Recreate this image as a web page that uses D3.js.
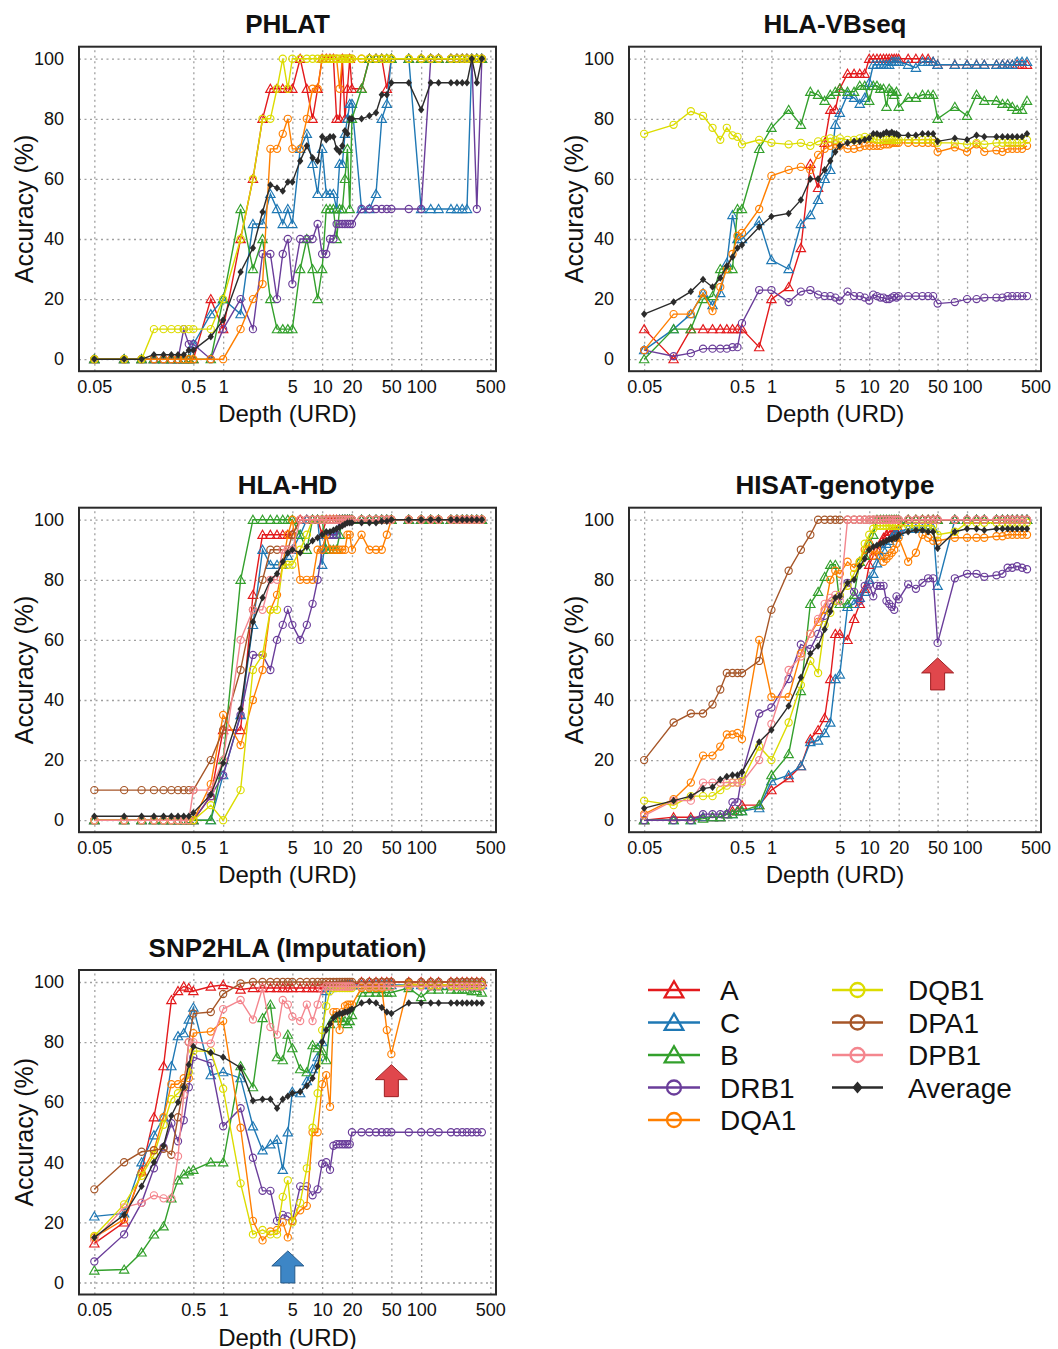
<!DOCTYPE html>
<html>
<head>
<meta charset="utf-8">
<script src="https://cdn.jsdelivr.net/npm/d3@7"></script>
<style>
  body { margin: 0; background: #fff; }
  svg { display: block; font-family: "Liberation Sans", Arial, sans-serif; }
</style>
</head>
<body>
<svg id="chart" width="1058" height="1349"></svg>
<script>
// sequencing depth (URD) of every sample point
var depth = [0.05,0.1,0.15,0.2,0.25,0.3,0.35,0.4,0.45,0.5,
  0.75,1,1.5,2,2.5,3,3.5,4,4.5,5,
  6,7,8,9,10,11,12,13,14,15,
  16,17,18,19,20,25,30,35,40,45,
  50,75,100,125,150,200,230,260,290,325,
  365,410]

var loci = ["A","C","B","DRB1","DQA1","DQB1","DPA1","DPB1","Average"]
var colors = ["#e31a1c","#1f78b4","#33a02c","#6a3d9a","#ff7f00","#dcdc00","#a65628","#f4868e","#2b2b2b"]
var shapes = ["tri","tri","tri","circ","circ","circ","circ","circ","diam"]
var xTicks = [0.05,0.5,1,5,10,20,50,100,500]
var xTickLabels = ["0.05","0.5","1","5","10","20","50","100","500"]
var yTicks = [0,20,40,60,80,100]

// ---- PHLAT
var phlat = {
  A: [0,0,0,0,0,0,0,0,0,0, 20,10,40,60,80,90,90,90,90,90, 100,90,80,90,100,100,100,100,80,80, 100,80,90,100,90,90,100,100,100,90, 100,100,100,100,100,100,100,100,100,100, 100,100],
  C: [0,0,0,0,0,0,0,0,0,5, 15,20,15,45,45,55,50,45,50,45, 70,75,65,55,70,55,55,55,50,65, 65,75,80,85,85,50,50,55,80,85, 100,100,50,50,50,50,50,50,50,100, 100,100],
  B: [0,0,0,0,0,0,0,0,0,0, 0,20,50,30,40,20,10,10,10,10, 30,40,30,20,30,50,50,50,40,50, 50,60,70,50,80,90,100,100,100,100, 100,100,100,100,100,100,100,100,100,100, 100,100],
  DRB1: [0,0,0,0,0,0,0,10,5,5, 0,10,20,10,35,35,20,35,40,25, 40,40,40,45,35,35,40,40,45,45, 45,45,45,45,45,50,50,50,50,50, 50,50,50,100,100,100,100,100,100,100, 50,100],
  DQA1: [0,0,0,0,0,0,0,0,0,0, 0,0,10,20,25,70,70,75,80,70, 70,80,90,90,100,100,100,100,100,90, 100,100,100,100,100,100,100,100,100,100, 100,100,100,100,100,100,100,100,100,100, 100,100],
  DQB1: [0,0,0,10,10,10,10,10,10,10, 10,20,40,60,80,80,90,100,90,100, 100,100,100,100,100,100,100,100,100,100, 100,100,100,100,100,100,100,100,100,100, 100,100,100,100,100,100,100,100,100,100, 100,100],
  Average: [0,0,0,1.5,1.5,1.5,1.5,1.5,3,3, 7.5,13,29,37,49,58,57,56,59,59, 66,71,67,66,74,73,74,74,70,69, 71,76,75,80,80,80,81,82,88,88, 92,92,83,92,92,92,92,92,92,100, 92,100]
}

// ---- HLA-VBseq
var vbseq = {
  A: [10,0,10,10,10,10,10,10,10,10, 4,20,24,37,65,57,72,83,83,90, 95,95,95,95,100,100,100,100,100,100, 100,100,100,100,100,100,100,100,100,99, 98,98,98,98,98,98,98,98,98,98, 98,98],
  C: [3,10,15,22,18,22,32,48,40,40, 46,33,30,45,48,53,60,63,78,82, 88,87,85,87,92,98,98,98,98,98, 98,99,99,99,99,98,97,99,99,99, 98,98,98,98,98,98,98,98,98,99, 99,99],
  B: [0,10,10,20,21,30,30,30,50,50, 70,77,83,78,89,88,86,88,89,90, 89,89,91,91,86,91,91,90,90,84, 90,89,88,89,84,87,87,88,88,88, 80,84,81,88,86,86,85,85,84,83, 83,86],
  DRB1: [3,1,2,3.5,3.5,3.5,3.5,4,4,12, 23,23,19,22.5,23,21.5,21,21,20.5,19.5, 22.5,21,21,20.5,19.5,21.5,21,20.5,20.5,20, 20,20.5,21,20.5,21,21,21,21,21,21, 18.5,19,20,20,20.5,20.5,20.5,21,21,21, 21,21],
  DQA1: [3,15,15,22,16,24,30,35,41,42, 50,61,63,64,63,68,70,71,71.5,71, 70,70,70.5,71,71,71,71,71,71.5,71.5, 71.5,72,72,72,72,72,72,72,72,72, 69,70.5,69,71.5,69,69.5,69,70,70,70, 70,71],
  DQB1: [75,78,82.5,81,77,73,77,74.5,74,71.5, 73,72,71.5,72,71,72.5,73,73.5,73,73.5, 73,73,73.5,74,73.5,73.5,73,73,73,73, 73,73,73,73,73,73,73,73,73,73, 72,72,71.5,72,71.5,72,72,72,72,72, 72,73],
  Average: [15,19,22.5,26.5,24,27,31,34,37,38, 44,47.5,48.5,53,60,60,63,66,69,71, 72,72.5,72.5,73,73.5,75,75,74.5,75,75.5, 75,75.5,75,75,74.5,74.5,74.5,75,75,75, 72.5,73.5,73,74.5,74,74,74,74,74,74, 74,75]
}

// ---- HLA-HD
var hlahd = {
  A: [0,0,0,0,0,0,0,0,0,0, 8,30,30,75,95,95,95,95,95,95, 100,100,100,100,95,100,100,100,100,100, 100,100,100,100,100,100,100,100,100,100, 100,100,100,100,100,100,100,100,100,100, 100,100],
  C: [0,0,0,0,0,0,0,0,0,0, 0,15,35,65,90,85,85,85,88,90, 95,100,100,100,85,95,95,95,95,100, 100,100,100,100,100,100,100,100,100,100, 100,100,100,100,100,100,100,100,100,100, 100,100],
  B: [0,0,0,0,0,0,0,0,0,0, 0,20,80,100,100,100,100,100,100,100, 95,90,100,100,100,90,90,90,90,95, 100,100,100,100,100,100,100,100,100,100, 100,100,100,100,100,100,100,100,100,100, 100,100],
  DRB1: [0,0,0,0,0,0,0,0,0,0, 8,15,35,55,55,50,60,65,70,65, 60,65,72,80,90,95,95,95,95,100, 100,100,100,100,100,100,100,100,100,100, 100,100,100,100,100,100,100,100,100,100, 100,100],
  DQA1: [0,0,0,0,0,0,0,0,0,0, 12,35,25,40,50,70,75,85,95,100, 80,80,80,90,90,95,90,90,90,90, 90,90,95,95,90,95,90,90,90,95, 100,100,100,100,100,100,100,100,100,100, 100,100],
  DQB1: [0,0,0,0,0,0,0,0,0,0, 5,0,10,50,55,70,70,85,85,85, 90,95,100,100,100,100,100,100,100,100, 100,100,100,100,100,100,100,100,100,100, 100,100,100,100,100,100,100,100,100,100, 100,100],
  DPA1: [10,10,10,10,10,10,10,10,10,10, 20,30,50,70,80,90,90,90,90,95, 100,100,100,100,100,100,100,100,100,100, 100,100,100,100,100,100,100,100,100,100, 100,100,100,100,100,100,100,100,100,100, 100,100],
  DPB1: [0,0,0,0,0,0,0,0,0,10, 10,20,60,70,70,80,80,90,90,90, 100,100,100,100,100,100,100,100,100,100, 100,100,100,100,100,100,100,100,100,100, 100,100,100,100,100,100,100,100,100,100, 100,100],
  Average: [1.3,1.3,1.3,1.3,1.3,1.3,1.3,1.3,1.3,2.5, 8.5,19,37,66,74,80,82,86,89,90, 89,91,93,94,95,96,96,96.5,97,97.5, 98,98.5,99,99,99,99,99,99,99.5,99.5, 100,100,100,100,100,100,100,100,100,100, 100,100]
}

// ---- HISAT-genotype
var hisat = {
  A: [0,1,1,1,1,1,2,3,3,5, 5,10,14,18,27,30,34,47,62,62, 60,67,72,77,85,88,90,92,94,95, 96,96,96,96,97,100,100,100,100,100, 100,100,100,100,100,100,100,100,100,100, 100,100],
  C: [0,0,0,1,1,1,2,2,3,3, 4,13,15,18,26,26.5,29,32.5,47,48.5, 71,72,74,76,80,82,85.5,88,90,92, 93,94,95,95,96,97,97,97,97,97, 78,100,100,100,100,100,100,100,100,100, 100,100],
  B: [0,0,0,0.5,1,1,2,2,3,3, 5,15,22,43,72,76,81,85,85,72, 72,75,86,88,92,95,100,100,100,100, 100,100,100,100,100,100,100,100,100,100, 100,100,100,100,100,100,100,100,100,100, 100,100],
  DRB1: [0,0,0,2,2,2,2,6,6,15, 35.5,37.5,47,58.5,57,62,68,72,73,74.5, 79,76,73,78,78.5,74.5,78,78,78,73, 72,71,70,74.5,73.5,78.5,77,79,80.5,80.5, 59,80.5,82,82,81,81.5,82,84,84,84.5, 84,83.5],
  DQA1: [2,7,12.5,21.5,21.5,24.5,28.5,28.5,29,27, 60,41,41,55.5,62,66,70,80,83,82, 86,84,86,90,92,88,90,88,86,87, 88,89,90,92,94,86,89,95,94,93, 93,94,94,94,94,94.5,94.5,95,95,95, 95,95],
  DQB1: [6.5,5,8,8,8,10,11.5,12.5,12.5,13, 24.5,20,32.5,45,53,49,65,69,73,75, 78,82,86,92,95,97,98,98,98,98, 98,98,98,98,98,98,98,98,98,98, 95,96,99,99,99,99,99,99,99,99, 99,99],
  DPA1: [20,32.5,35.5,35.5,38.5,43.5,49,49,49,49, 53,70,83,90,95,100,100,100,100,100, 100,100,100,100,100,100,100,100,100,100, 100,100,100,100,100,100,100,100,100,100, 100,100,100,100,100,100,100,100,100,100, 100,100],
  DPB1: [1.5,6.5,6.5,12.5,12.5,12.5,12.5,12.5,12.5,12.5, 20,32,50,54.5,62,67,72,74,75,73, 100,100,100,100,100,100,100,100,100,100, 100,100,100,100,100,100,100,100,100,100, 100,100,100,100,100,100,100,100,100,100, 100,100],
  Average: [4,6.5,8,10.5,11,13.5,14.5,15,15,16, 26,30,38,47.5,55.5,58,63.5,69.5,74,74.5, 79,80,84.5,87,90,91,91.5,92,92.5,93, 93.5,93.5,94,94,95,96,96.5,96.5,96,96, 90.5,96,97,97,96.5,97,97,97,97,97, 97,97]
}

// ---- SNP2HLA (Imputation)
var snp2hla = {
  A: [13,20,37,55,72,94,97,98.5,98,97, 98.5,99,97.5,98,98,98,98,98,98,98, 98,98,98,98,98,99,99,99,99,99, 99,99,99,99,99,100,100,100,100,100, 100,100,100,100,100,100,100,100,100,100, 100,100],
  C: [22,23,40,49,55,72,82,83,87.5,91.5, 69,70,68,52,44,46,47.5,37.5,50,63.5, 63,67,71,75,80,97,98,99,99,99, 99,99,99,99,99,99,99,99,99,99, 99,99,99,99,99,99,99,99,99,99, 99,99],
  B: [4,4.3,10,16,18.7,28,34,36,37,37.5, 40,40,72,65,88,92.5,75,74,82.5,78, 71,70,79,78,77,74,86,88,88,88, 87,87,86,87,89,96.5,96.5,96.5,96.5,96.5, 96.5,98,95,97.5,97.5,97.5,97.5,97.5,97.5,97, 97,96.5],
  DRB1: [7,16,26.5,38,45,53,47,54,65,75, 73,52,58,41.5,30.5,30.5,20.5,22.5,22,20.5, 32,32,29,31,39.5,40,37.5,45.5,46,46, 46,46,46,46,50,50,50,50,50,50, 50,50,50,50,50,50,50,50,50,50, 50,50],
  DQA1: [15,21,36.5,44,55,66,66,68,68,83, 83.5,87,51.5,20.5,14,17,17.5,20,15,20.5, 24,25.5,50,50,66,69,58.5,90,90,84, 90,92,92.5,92.5,92.5,98,98,98,98,84, 76,99.5,99,99,99,99,99,99,99,99, 99,99],
  DQB1: [15.5,26,35.5,42.5,52.5,61,63,65,70,77, 77,64.5,33,16,17.5,16,16,28.5,34,20, 26.5,38,51.5,63,84,92,97,98,98,98, 98,98,98,98,98,98.5,98.5,98.5,98.5,98.5, 98.5,99,99,99,99,99,99,99,99,99, 99,99],
  DPA1: [31,40,43.5,44,44.5,42.5,55,65,80,89.5, 90,96,99.5,100,100,100,100,100,100,100, 100,100,100,100,100,100,100,100,100,100, 100,100,100,100,100,100,100,100,100,100, 100,100,100,100,100,100,100,100,100,100, 100,100],
  DPB1: [14,25,26.5,29,28,28,42,62.5,80,80, 79.5,91,94,87.5,98,85,82.5,94,92.5,88.5, 87,92.5,87,92.5,97.5,98.5,98.5,98.5,98.5,98.5, 98.5,98.5,98.5,98.5,98.5,98.5,98.5,98.5,98.5,98.5, 98.5,98.5,98.5,98.5,98.5,98.5,98.5,98.5,98.5,98.5, 98.5,98.5],
  Average: [15,22.5,32,40,45.5,55.5,60,65,72.5,78.5, 76.5,75,71.5,60.5,61,61,58,61,62,63, 63.5,65.5,68,72,80,84,86,88,89,89.5, 89.5,90,90,90.5,91,93,93.5,93,91.5,90, 89.5,93,93,93,93,93,93,93,93,93, 93,93]
}

var panels = [
  {title: "PHLAT", data: phlat, col: 0, row: 0},
  {title: "HLA-VBseq", data: vbseq, col: 1, row: 0},
  {title: "HLA-HD", data: hlahd, col: 0, row: 1},
  {title: "HISAT-genotype", data: hisat, col: 1, row: 1},
  {title: "SNP2HLA (Imputation)", data: snp2hla, col: 0, row: 2}
]

// arrows marking the dips (depth, accuracy at arrow tip)
var arrows = [
  {panel: 3, x: 50, tip: 54, fill: "#e0474c", stroke: "#9e1f22"},
  {panel: 4, x: 50, tip: 72.5, fill: "#e0474c", stroke: "#9e1f22"},
  {panel: 4, x: 4.5, tip: 10.5, fill: "#3d86c6", stroke: "#25598a"}
]

var colPos = [{left: 79, right: 496}, {left: 629, right: 1041}]
var rowTop = [46.7, 507.7, 970]
var plotH = 324.5

var svg = d3.select("#chart")
svg.append("rect").attr("width", 1058).attr("height", 1349).attr("fill", "#fff")

function marker(sel, shape, color, big) {
    var k = big ? 2 : 1
    if (shape == "tri") {
        sel.append("path")
        .attr("d", d3.symbol().type(d3.symbolTriangle).size(big ? 150 : 38)())
        .attr("transform", "translate(0," + (big ? 2 : 0.9) + ")")
        .attr("fill", "none").attr("stroke", color).attr("stroke-width", 1.15 * k)
    } else if (shape == "circ") {
        sel.append("circle").attr("r", big ? 7 : 3.6)
        .attr("fill", "none").attr("stroke", color).attr("stroke-width", 1.15 * k)
    } else {
        var s = big ? 1.7 : 1.05
        sel.append("path")
        .attr("d", "M0," + (-3.6 * s) + "L" + (3 * s) + ",0L0," + (3.6 * s) + "L" + (-3 * s) + ",0Z")
        .attr("fill", color)
    }
}

panels.forEach(function(p, pi) {
    var left = colPos[p.col].left, right = colPos[p.col].right
    var top = rowTop[p.row], bottom = top + plotH

    var x = d3.scaleLog().domain([0.035, 570]).range([left, right])
    var y = d3.scaleLinear().domain([-4, 104]).range([bottom, top])
    var g = svg.append("g")

    // dotted grid
    g.append("g").attr("transform", "translate(0," + bottom + ")")
    .call(d3.axisBottom(x).tickValues(xTicks).tickSize(-plotH).tickFormat(""))
    .call(function(a) { a.select(".domain").remove() })
    .selectAll("line").attr("stroke", "#a0a0a0").attr("stroke-width", 1.3).attr("stroke-dasharray", "2,3.5")
    g.append("g").attr("transform", "translate(" + left + ",0)")
    .call(d3.axisLeft(y).tickValues(yTicks).tickSize(-(right - left)).tickFormat(""))
    .call(function(a) { a.select(".domain").remove() })
    .selectAll("line").attr("stroke", "#a0a0a0").attr("stroke-width", 1.3).attr("stroke-dasharray", "2,3.5")

    // tick labels
    var xa = g.append("g").attr("transform", "translate(0," + bottom + ")")
    .call(d3.axisBottom(x).tickValues(xTicks).tickSize(0).tickPadding(9)
        .tickFormat(function(d, i) { return xTickLabels[i] }))
    xa.select(".domain").remove()
    xa.selectAll("text").attr("font-size", 18).attr("fill", "#111")
    .attr("font-family", "'Liberation Sans', Arial, sans-serif")
    var ya = g.append("g").attr("transform", "translate(" + left + ",0)")
    .call(d3.axisLeft(y).tickValues(yTicks).tickSize(0).tickPadding(15))
    ya.select(".domain").remove()
    ya.selectAll("text").attr("font-size", 18).attr("fill", "#111")
    .attr("font-family", "'Liberation Sans', Arial, sans-serif")

    // series
    var line = d3.line()
    .defined(function(d) { return d[1] != null })
    .x(function(d) { return x(d[0]) })
    .y(function(d) { return y(d[1]) })

    loci.forEach(function(locus, li) {
        var vals = p.data[locus]
        if (!vals) return
        var pts = depth.map(function(d, i) { return [d, vals[i]] })
        var sg = g.append("g")
        sg.append("path").datum(pts).attr("d", line)
        .attr("fill", "none").attr("stroke", colors[li]).attr("stroke-width", 1.4)
        sg.selectAll("g.pt").data(pts.filter(function(d) { return d[1] != null }))
        .enter().append("g")
        .attr("transform", function(d) { return "translate(" + x(d[0]) + "," + y(d[1]) + ")" })
        .each(function() { marker(d3.select(this), shapes[li], colors[li], false) })
    })

    // frame
    g.append("rect").attr("x", left).attr("y", top)
    .attr("width", right - left).attr("height", plotH)
    .attr("fill", "none").attr("stroke", "#2a2a2a").attr("stroke-width", 2)

    // titles
    g.append("text").attr("x", (left + right) / 2).attr("y", top - 13.5)
    .attr("text-anchor", "middle").attr("font-size", 26).attr("font-weight", "bold")
    .attr("fill", "#111").text(p.title)
    g.append("text").attr("x", (left + right) / 2).attr("y", bottom + 51)
    .attr("text-anchor", "middle").attr("font-size", 24).attr("fill", "#111")
    .text("Depth (URD)")
    g.append("text")
    .attr("transform", "translate(" + (left - 46) + "," + ((top + bottom) / 2) + ") rotate(-90)")
    .attr("text-anchor", "middle").attr("font-size", 25).attr("fill", "#111")
    .text("Accuracy (%)")

    arrows.filter(function(a) { return a.panel == pi }).forEach(function(a) {
        g.append("path")
        .attr("d", "M0,0L16,15L7,15L7,32L-7,32L-7,15L-16,15Z")
        .attr("transform", "translate(" + x(a.x) + "," + y(a.tip) + ")")
        .attr("fill", a.fill).attr("stroke", a.stroke).attr("stroke-width", 1)
    })
})

// legend
var legCols = [
  {items: ["A","C","B","DRB1","DQA1"], x0: 648, x1: 700, tx: 720},
  {items: ["DQB1","DPA1","DPB1","Average"], x0: 832, x1: 883, tx: 908}
]
var legY = d3.scalePoint().domain(d3.range(5)).range([990, 1120])
var leg = svg.append("g")
legCols.forEach(function(c) {
    c.items.forEach(function(name, i) {
        var li = loci.indexOf(name)
        var yy = legY(i)
        leg.append("line").attr("x1", c.x0).attr("x2", c.x1).attr("y1", yy).attr("y2", yy)
        .attr("stroke", colors[li]).attr("stroke-width", 2.6)
        var m = leg.append("g").attr("transform", "translate(" + ((c.x0 + c.x1) / 2) + "," + yy + ")")
        marker(m, shapes[li], colors[li], true)
        leg.append("text").attr("x", c.tx).attr("y", yy + 10)
        .attr("font-size", 28).attr("fill", "#111").text(name)
    })
})
</script>
</body>
</html>
